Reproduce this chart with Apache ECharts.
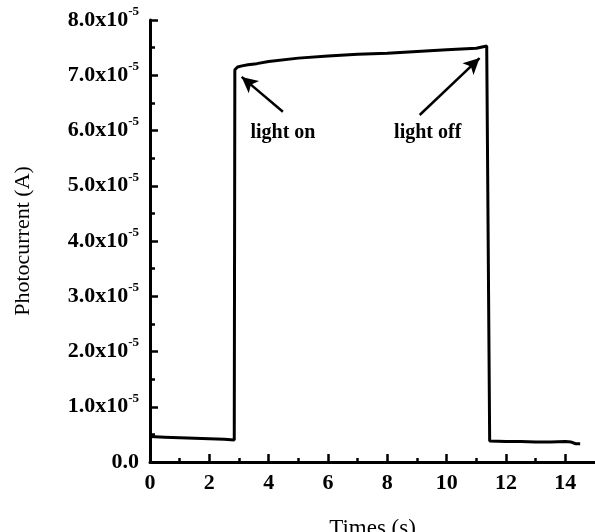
<!DOCTYPE html>
<html>
<head>
<meta charset="utf-8">
<script src="https://cdn.jsdelivr.net/npm/echarts@6/dist/echarts.min.js"></script>
<style>html,body{margin:0;padding:0;background:#fff;}#c{width:595px;height:532px;}</style>
</head>
<body>
<div id="c"></div>
<script>
// Data (time in s, photocurrent in A)
const times = [0, 0.5, 1, 1.5, 2, 2.5, 2.84, 2.86, 2.95, 3.1, 3.3, 3.6, 4, 5, 6, 7, 8, 9, 10, 11, 11.35, 11.4, 11.45, 12, 12.5, 13, 13.5, 14, 14.2, 14.35, 14.5];
const currents = [4.6e-6, 4.5e-6, 4.4e-6, 4.3e-6, 4.2e-6, 4.1e-6, 4.0e-6, 7.10e-5, 7.15e-5, 7.17e-5, 7.19e-5, 7.21e-5, 7.25e-5, 7.31e-5, 7.35e-5, 7.38e-5, 7.40e-5, 7.43e-5, 7.46e-5, 7.49e-5, 7.53e-5, 7.52e-5, 3.8e-6, 3.7e-6, 3.7e-6, 3.6e-6, 3.6e-6, 3.7e-6, 3.6e-6, 3.3e-6, 3.3e-6];
const xTicks = [0, 2, 4, 6, 8, 10, 12, 14];
const yTickMantissas = ['0.0', '1.0', '2.0', '3.0', '4.0', '5.0', '6.0', '7.0', '8.0'];
// Annotations
const annoTexts = ['light on', 'light off'];
const annoTextPos = [[4.48, 5.95e-5], [9.36, 5.95e-5]];
const annoArrowTail = [[4.48, 6.34e-5], [9.09, 6.28e-5]];
const annoArrowHead = [[3.09, 6.97e-5], [11.11, 7.31e-5]];

const FONT = 'Liberation Serif';
const chart = echarts.init(document.getElementById('c'));
const seriesData = times.map((t, i) => [t, currents[i]]);

chart.setOption({
  animation: false,
  backgroundColor: '#fff',
  grid: { left: 150, top: 20, right: 0, bottom: 70, containLabel: false, outerBoundsMode: 'none' },
  xAxis: {
    type: 'value', min: 0, max: 15, interval: 2,
    name: 'Times (s)', nameLocation: 'middle', nameGap: 55,
    nameTextStyle: { fontFamily: FONT, fontSize: 23, color: '#000' },
    axisLine: { show: true, onZero: false, lineStyle: { color: '#000', width: 3 } },
    axisTick: { show: true, inside: true, length: 8, lineStyle: { color: '#000', width: 2.5 },
      customValues: xTicks },
    minorTick: { show: true, splitNumber: 2, length: 4, lineStyle: { color: '#000', width: 2.5 } },
    axisLabel: { fontFamily: FONT, fontSize: 22, fontWeight: 'bold', color: '#000', margin: 10,
      customValues: xTicks, formatter: v => String(v) },
    splitLine: { show: false }
  },
  yAxis: {
    type: 'value', min: 0, max: 8e-5, interval: 1e-5,
    name: 'Photocurrent (A)', nameLocation: 'middle', nameGap: 116,
    nameTextStyle: { fontFamily: FONT, fontSize: 22, color: '#000' },
    axisLine: { show: true, lineStyle: { color: '#000', width: 3 } },
    axisTick: { show: true, inside: true, length: 8, lineStyle: { color: '#000', width: 2.5 } },
    minorTick: { show: true, splitNumber: 2, length: 5, lineStyle: { color: '#000', width: 2.5 } },
    axisLabel: {
      margin: 11, color: '#000',
      formatter: v => {
        const idx = Math.round(v / 1e-5);
        const m = yTickMantissas[idx];
        if (idx === 0) return '{a|' + m + '}';
        return '{a|' + m + 'x10}{b|-5}';
      },
      rich: {
        a: { fontFamily: FONT, fontSize: 22, fontWeight: 'bold', color: '#000' },
        b: { fontFamily: FONT, fontSize: 13, fontWeight: 'bold', color: '#000', verticalAlign: 'top', padding: [0, 0, 17, 0] }
      }
    },
    splitLine: { show: false }
  },
  series: [{
    type: 'line',
    data: seriesData,
    symbol: 'none',
    lineStyle: { color: '#000', width: 3 },
    z: 3,
    markLine: {
      silent: true,
      symbol: ['none', 'arrow'],
      symbolSize: [12, 16],
      lineStyle: { color: '#000', width: 2.5, type: 'solid' },
      label: { show: false },
      data: annoArrowTail.map((t, i) => [{ coord: t }, { coord: annoArrowHead[i] }])
    },
    markPoint: {
      silent: true,
      symbol: 'circle', symbolSize: 0,
      label: { show: true, position: 'inside', fontFamily: FONT, fontSize: 20, fontWeight: 'bold', color: '#000',
        formatter: p => p.name },
      data: annoTexts.map((s, i) => ({ name: s, coord: annoTextPos[i] }))
    }
  }]
});
</script>
</body>
</html>
